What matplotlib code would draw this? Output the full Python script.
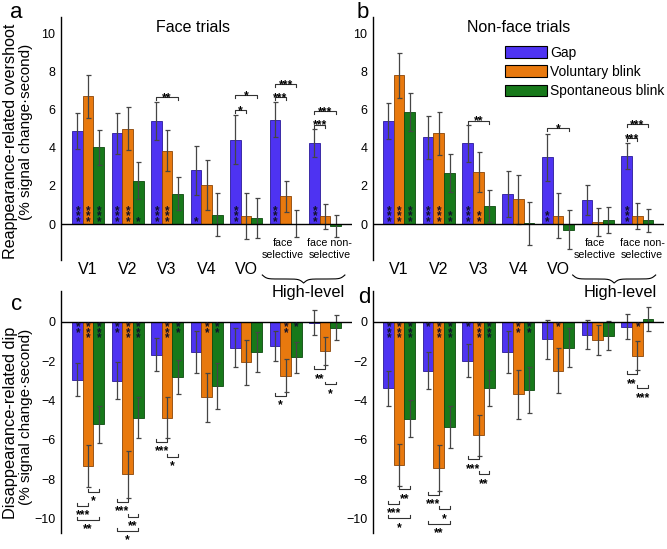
import numpy as np
import matplotlib
matplotlib.use('Agg')
import matplotlib.pyplot as plt
from matplotlib.transforms import blended_transform_factory
from matplotlib.patches import Patch
from matplotlib.lines import Line2D

plt.rcParams['font.family'] = ['Liberation Sans', 'DejaVu Sans']

# ---------------- data ----------------
categories = ['V1', 'V2', 'V3', 'V4', 'VO', 'face\nselective', 'face non-\nselective']
series_names = ['Gap', 'Voluntary blink', 'Spontaneous blink']

# (a) Face trials, reappearance-related overshoot
gap_face_over = [4.87, 4.76, 5.38, 2.81, 4.42, 5.46, 4.24]
gap_face_over_err = [0.94, 1.08, 1.00, 1.27, 1.27, 0.91, 0.72]
vol_face_over = [6.68, 4.99, 3.84, 2.06, 0.42, 1.45, 0.40]
vol_face_over_err = [1.12, 1.12, 1.07, 1.31, 1.20, 0.80, 0.67]
spo_face_over = [4.01, 2.27, 1.59, 0.49, 0.31, 0.02, -0.10]
spo_face_over_err = [0.90, 0.96, 0.86, 1.13, 1.06, 0.71, 0.59]

# (b) Non-face trials, reappearance-related overshoot
gap_nonface_over = [5.39, 4.54, 4.22, 1.57, 3.50, 1.27, 3.57]
gap_nonface_over_err = [0.94, 1.11, 0.95, 1.20, 1.23, 0.77, 0.67]
vol_nonface_over = [7.78, 4.76, 2.72, 1.31, 0.44, 0.12, 0.41]
vol_nonface_over_err = [1.16, 1.13, 1.03, 1.28, 1.18, 0.73, 0.67]
spo_nonface_over = [5.88, 2.69, 0.96, 0.05, -0.30, 0.21, 0.19]
spo_nonface_over_err = [0.99, 1.00, 0.84, 1.12, 1.03, 0.70, 0.58]

# (c) Face trials, disappearance-related dip
gap_face_dip = [-2.95, -3.00, -1.68, -1.56, -1.32, -1.25, -0.05]
gap_face_dip_err = [0.85, 0.95, 0.83, 1.07, 1.00, 0.77, 0.62]
vol_face_dip = [-7.34, -7.76, -4.88, -3.85, -2.07, -2.75, -1.50]
vol_face_dip_err = [1.06, 1.18, 1.03, 1.25, 1.13, 0.84, 0.71]
spo_face_dip = [-5.22, -4.88, -2.80, -3.27, -1.53, -1.81, -0.30]
spo_face_dip_err = [0.95, 1.05, 0.87, 1.16, 1.02, 0.78, 0.64]

# (d) Non-face trials, disappearance-related dip
gap_nonface_dip = [-3.39, -2.49, -1.98, -1.56, -0.90, -0.66, -0.25]
gap_nonface_dip_err = [0.88, 0.93, 0.84, 1.07, 0.98, 0.73, 0.64]
vol_nonface_dip = [-7.27, -7.44, -5.78, -3.70, -2.49, -0.92, -1.73]
vol_nonface_dip_err = [1.07, 1.17, 1.06, 1.25, 1.15, 0.77, 0.74]
spo_nonface_dip = [-4.93, -5.36, -3.36, -3.46, -1.32, -0.71, 0.12]
spo_nonface_dip_err = [0.93, 1.08, 0.92, 1.17, 1.00, 0.74, 0.61]

# significance stars inside bars (per series, per region)
stars_a = [['***', '***', '***', '*', '***', '***', '***'],
           ['***', '***', '***', '', '', '', ''],
           ['***', '*', '', '', '', '', '']]
stars_b = [['***', '***', '***', '', '**', '', '***'],
           ['***', '***', '**', '', '', '', ''],
           ['***', '**', '', '', '', '', '']]
stars_c = [['**', '**', '', '', '', '', ''],
           ['***', '***', '***', '**', '', '**', ''],
           ['***', '***', '**', '**', '', '*', '']]
stars_d = [['***', '*', '*', '', '', '', ''],
           ['***', '***', '***', '**', '*', '', '*'],
           ['***', '***', '***', '**', '', '', '']]

# pairwise comparison brackets: (region, series1, series2, level, label)
brackets_a = [(2, 0, 2, 6.63, '**'), (4, 0, 1, 5.97, '*'), (4, 0, 2, 6.75, '*'),
              (5, 0, 1, 6.63, '***'), (5, 0, 2, 7.33, '***'),
              (6, 0, 1, 5.20, '***'), (6, 0, 2, 5.93, '***')]
brackets_b = [(2, 0, 2, 5.41, '**'), (4, 0, 2, 5.03, '*'),
              (6, 0, 1, 4.48, '***'), (6, 0, 2, 5.24, '***')]
brackets_c = [(0, 1, 2, -8.64, '*'), (0, 0, 1, -9.35, '***'), (0, 0, 2, -10.08, '**'),
              (1, 0, 1, -9.15, '***'), (1, 1, 2, -9.91, '**'), (1, 0, 2, -10.62, '*'),
              (2, 0, 1, -6.10, '***'), (2, 1, 2, -6.86, '*'),
              (5, 0, 1, -3.78, '*'), (6, 0, 1, -2.42, '**'), (6, 1, 2, -3.19, '*')]
brackets_d = [(0, 1, 2, -8.52, '**'), (0, 0, 1, -9.27, '***'), (0, 0, 2, -10.00, '*'),
              (1, 0, 1, -8.81, '***'), (1, 1, 2, -9.54, '*'), (1, 0, 2, -10.29, '**'),
              (2, 0, 1, -7.00, '***'), (2, 1, 2, -7.76, '**'),
              (6, 0, 1, -2.68, '**'), (6, 1, 2, -3.39, '***')]

# ---------------- style ----------------
colors = ['#4e33f2', '#e8790e', '#17791a']
edges = ['#2a1a9a', '#8a4508', '#0c4a0e']
bw = 0.27
offsets = [-bw, 0.0, bw]

W, H = 667, 549
fig = plt.figure(figsize=(W / 100, H / 100), dpi=100)


def fx(px):
    return px / W


def fy(py):
    return 1 - py / H


def make_ax(l, r, t, b):
    return fig.add_axes([fx(l), fy(b), (r - l) / W, (b - t) / H])


ax_a = make_ax(61, 352, 17, 260)
ax_b = make_ax(373, 664, 17, 260)
ax_c = make_ax(61, 352, 291, 533)
ax_d = make_ax(373, 664, 291, 533)


def draw_panel(ax, means, errs, stars, brackets, xlim, ylim, ticks, above):
    x = np.arange(len(categories))
    ax.set_xlim(*xlim)
    ax.set_ylim(*ylim)
    for k in range(3):
        xs = x + offsets[k]
        ax.bar(xs, means[k], width=bw, color=colors[k], edgecolor=edges[k],
               linewidth=0.6, zorder=2)
        ax.errorbar(xs, means[k], yerr=errs[k], fmt='none', ecolor='#454545',
                    elinewidth=0.9, capsize=1.8, capthick=0.9, zorder=3)
        for xi, s in zip(xs, stars[k]):
            if s:
                stacked = '\n'.join(s)
                ax.annotate(stacked, xy=(xi, 0), xytext=(0.3, -2.6 if above else 0.2),
                            textcoords='offset points', linespacing=0.25,
                            ha='center', va='bottom' if above else 'top',
                            fontsize=8.5, fontweight='bold', color='#10102a', zorder=5)
    ax.axhline(0, color='black', lw=1.0, zorder=4)
    for g, i1, i2, y, s in brackets:
        x1 = g + offsets[i1]
        x2 = g + offsets[i2]
        d = -0.15 if above else 0.15
        ax.plot([x1, x1, x2, x2], [y + d, y, y, y + d], color='#333333',
                lw=0.8, clip_on=False, zorder=5)
        ax.annotate(s, xy=((x1 + x2) / 2, y), xytext=(0, -2.8 if above else -9.0),
                    textcoords='offset points', ha='center', va='baseline',
                    fontsize=8.8, fontweight='bold', annotation_clip=False, zorder=5)
    for sp in ['top', 'right', 'bottom']:
        ax.spines[sp].set_visible(False)
    ax.spines['left'].set_linewidth(1.0)
    ax.set_xticks([])
    ax.set_yticks(ticks)
    ax.tick_params(axis='y', length=0, pad=4, labelsize=9)
    ax.patch.set_alpha(0)


draw_panel(ax_a, [gap_face_over, vol_face_over, spo_face_over],
           [gap_face_over_err, vol_face_over_err, spo_face_over_err],
           stars_a, brackets_a, (-0.684, 6.68), (-1.88, 10.84), [0, 2, 4, 6, 8, 10], True)
draw_panel(ax_b, [gap_nonface_over, vol_nonface_over, spo_nonface_over],
           [gap_nonface_over_err, vol_nonface_over_err, spo_nonface_over_err],
           stars_b, brackets_b, (-0.657, 6.67), (-1.88, 10.84), [0, 2, 4, 6, 8, 10], True)
draw_panel(ax_c, [gap_face_dip, vol_face_dip, spo_face_dip],
           [gap_face_dip_err, vol_face_dip_err, spo_face_dip_err],
           stars_c, brackets_c, (-0.684, 6.68), (-10.74, 1.56), [0, -2, -4, -6, -8, -10], False)
draw_panel(ax_d, [gap_nonface_dip, vol_nonface_dip, spo_nonface_dip],
           [gap_nonface_dip_err, vol_nonface_dip_err, spo_nonface_dip_err],
           stars_d, brackets_d, (-0.657, 6.67), (-10.74, 1.56), [0, -2, -4, -6, -8, -10], False)

# category labels between the rows
label_dx = [0, 0, 0, 0, 0, -0.07, 0.12]
for ax in (ax_a, ax_b):
    trans = blended_transform_factory(ax.transData, fig.transFigure)
    for i, c in enumerate(categories):
        if '\n' in c:
            ax.text(i + label_dx[i], fy(257.7), c, transform=trans, ha='center',
                    va='baseline', fontsize=7.7, linespacing=1.15)
        else:
            ax.text(i + label_dx[i], fy(274.3), c, transform=trans, ha='center',
                    va='baseline', fontsize=11.5)
    ax.text(5.58, fy(296.7), 'High-level', transform=trans, ha='center',
            va='baseline', fontsize=11.8)


def draw_brace(ax, x0, x1, top_px, depth=8.0):
    p0 = ax.transData.transform((x0, 0))[0]
    p1 = ax.transData.transform((x1, 0))[0]
    n = 301
    xs = np.linspace(p0, p1, n)
    half = xs[:n // 2 + 1]
    beta = 0.45
    yh = 1 / (1 + np.exp(-beta * (half - half[0]))) + 1 / (1 + np.exp(-beta * (half - half[-1])))
    yy = np.concatenate((yh, yh[-2::-1]))
    ypx = (H - top_px) - depth * (yy - 0.5)
    fig.add_artist(Line2D(xs / W, ypx / H, transform=fig.transFigure,
                          color='black', lw=0.8))


fig.canvas.draw()
draw_brace(ax_a, 4.41, 6.50, 275)
draw_brace(ax_b, 4.37, 6.46, 275)

# titles & panel letters
fig.text(fx(192.5), fy(31.7), 'Face trials', ha='center', va='baseline', fontsize=11.5)
fig.text(fx(518.5), fy(31.7), 'Non-face trials', ha='center', va='baseline', fontsize=11.5)
for letter, px, py in [('a', 10, 18.3), ('b', 357, 18.3), ('c', 11.5, 310), ('d', 358, 303)]:
    fig.text(fx(px), fy(py), letter, ha='left', va='baseline', fontsize=16)

# y labels
fig.text(fx(15), fy(141), 'Reappearance-related overshoot', rotation=90,
         rotation_mode='anchor', ha='center', va='baseline', fontsize=11.6)
fig.text(fx(30), fy(131.5), '(% signal change\u00b7second)', rotation=90,
         rotation_mode='anchor', ha='center', va='baseline', fontsize=11)
fig.text(fx(15), fy(423), 'Disappearance-related dip', rotation=90,
         rotation_mode='anchor', ha='center', va='baseline', fontsize=11.8)
fig.text(fx(30), fy(417), '(% signal change\u00b7second)', rotation=90,
         rotation_mode='anchor', ha='center', va='baseline', fontsize=11)

# legend
handles = [Patch(facecolor=colors[k], edgecolor='black', linewidth=0.8) for k in range(3)]
fig.legend(handles, series_names, loc='upper left', bbox_to_anchor=(fx(505), fy(46)),
           frameon=False, fontsize=10, handlelength=3.0, handleheight=0.95,
           labelspacing=0.37, handletextpad=0.25, borderpad=0, borderaxespad=0)

fig.savefig('out.png', dpi=100)
